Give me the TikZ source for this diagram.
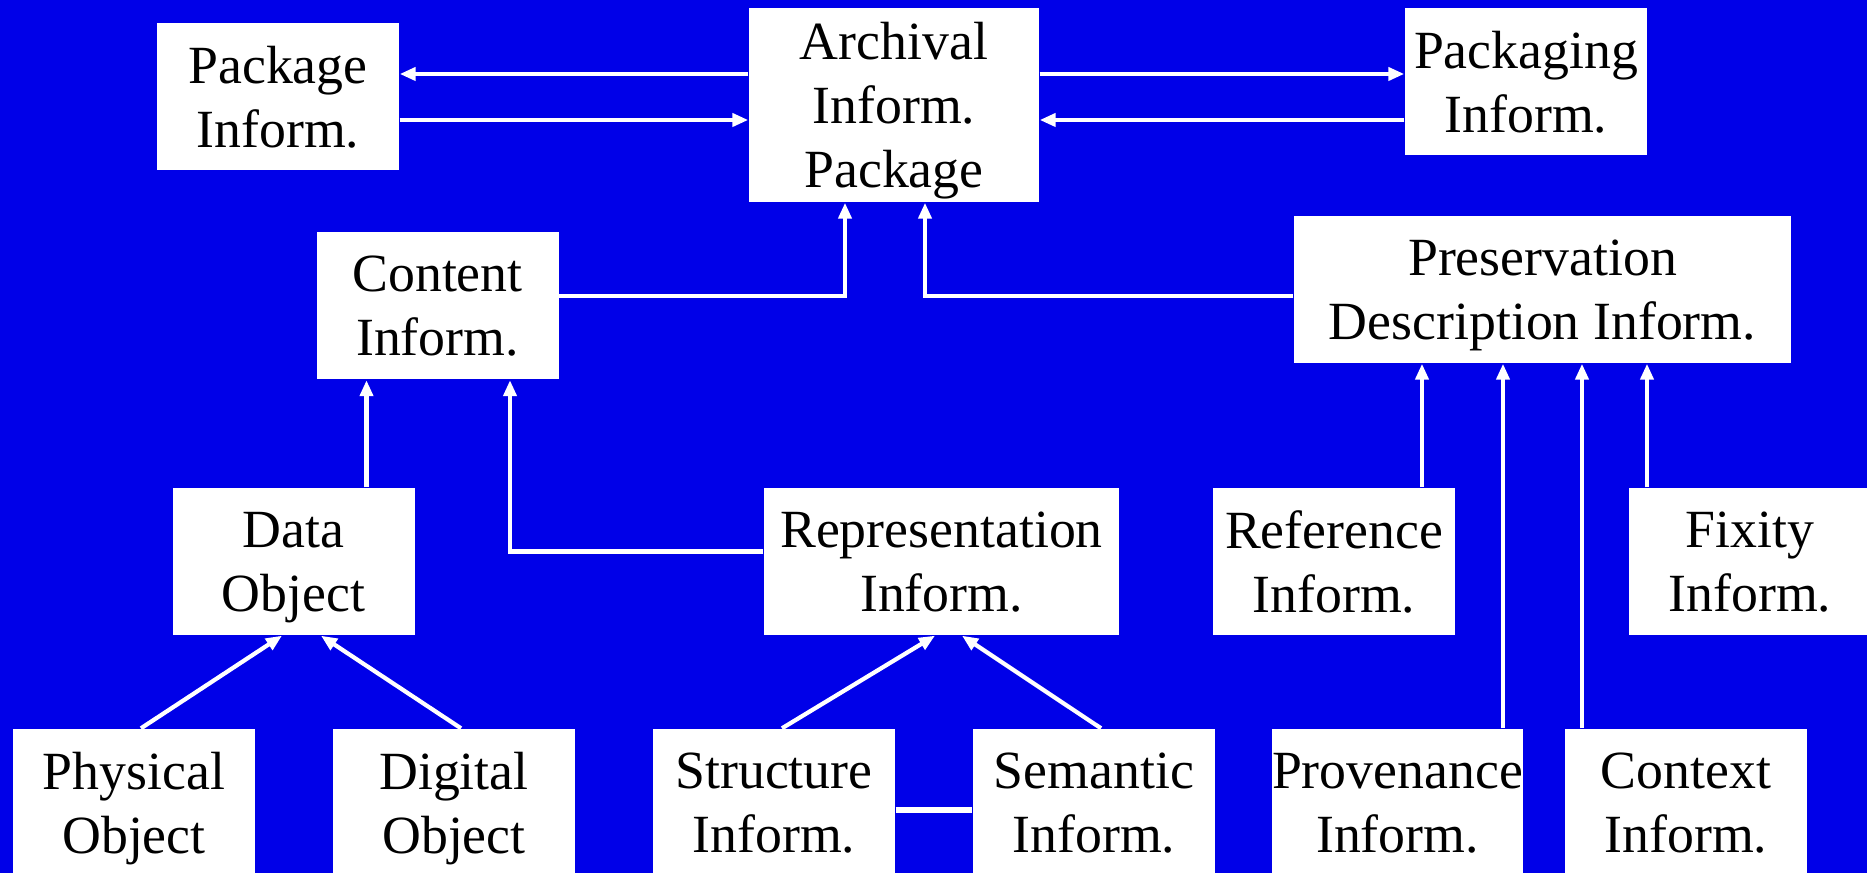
\documentclass[tikz,border=0pt]{standalone}
\usepackage{fontspec}
\setmainfont{Liberation Serif}
\usetikzlibrary{arrows.meta}
\definecolor{bgblue}{RGB}{0,0,232}
\tikzset{
  box/.style={fill=white, text=black, inner sep=0pt, align=center,
    minimum width=2.42cm, minimum height=1.47cm,
    font=\fontsize{15.3}{18.2}\selectfont, text depth=0pt},
  link/.style={draw=white, line width=1.2pt},
  arr/.style={link, -{Triangle[length=0.16cm, width=0.13cm]}}
}
\begin{document}
\begin{tikzpicture}
      % Background and frame
      \fill[bgblue] (0,0) rectangle (18.67,-8.73);
      \useasboundingbox (0,0) rectangle (18.67,-8.73);
      \clip (0,0) rectangle (18.67,-8.73);

      % Top row
      \node[box] (pkg) at (2.78,-0.97) {Package\\Inform.};
      \node[box, minimum width=2.90cm, minimum height=1.94cm] (aip) at (8.94,-1.05) {Archival\\Inform.\\Package};
      \node[box] (pkging) at (15.26,-0.815) {Packaging\\Inform.};

      % Second row
      \node[box] (content) at (4.375,-3.06) {Content\\Inform.};
      \node[box, minimum width=4.97cm] (pdi) at (15.425,-2.895) {Preservation\\Description Inform.};

      % Third row
      \node[box] (data) at (2.935,-5.615) {Data\\Object};
      \node[box, minimum width=3.55cm] (repr) at (9.415,-5.615) {Representation\\Inform.};
      \node[box] (ref) at (13.34,-5.615) {Reference\\Inform.};
      \node[box] (fixity) at (17.50,-5.615) {Fixity\\Inform.};

      % Bottom row
      \node[box] (phys) at (1.34,-8.025) {Physical\\Object};
      \node[box] (digi) at (4.54,-8.025) {Digital\\Object};
      \node[box] (struct) at (7.74,-8.025) {Structure\\Inform.};
      \node[box] (sem) at (10.94,-8.025) {Semantic\\Inform.};
      \node[box] (prov) at (13.975,-8.025) {Provenance\\Inform.};
      \node[box] (ctx) at (16.86,-8.025) {Context\\Inform.};

      % Arrows between the top boxes
      \draw[arr] ([yshift=2.3mm]pkg.east -| aip.west) -- ([yshift=2.3mm]pkg.east);
      \draw[arr] ([yshift=-2.3mm]pkg.east) -- ([yshift=-2.3mm]pkg.east -| aip.west);
      \draw[arr] ([yshift=2.3mm]pkg.east -| aip.east) -- ([yshift=2.3mm]pkg.east -| pkging.west);
      \draw[arr] ([yshift=-2.3mm]pkg.east -| pkging.west) -- ([yshift=-2.3mm]pkg.east -| aip.east);

      % Content and preservation into the package
      \draw[arr] ([yshift=1mm]content.east) -| ([xshift=-0.49cm]aip.south);
      \draw[arr] ([yshift=1mm]content.east -| pdi.west) -| ([xshift=0.31cm]aip.south);

      % Into the content box
      \draw[arr] ([xshift=0.73cm]data.north) -- ([xshift=0.73cm]data.north |- content.south);
      \draw[arr] ([yshift=1mm]repr.west) -| ([xshift=0.725cm]content.south);

      % Objects and representation parts
      \draw[arr] ([xshift=0.07cm]phys.north) -- ([xshift=-0.115cm]data.south);
      \draw[arr] ([xshift=0.07cm]digi.north) -- ([xshift=0.275cm]data.south);
      \draw[arr] ([xshift=0.08cm]struct.north) -- ([xshift=-0.065cm]repr.south);
      \draw[arr] ([xshift=0.07cm]sem.north) -- ([xshift=0.205cm]repr.south);
      \draw[link, line width=1.5pt] ([yshift=-0.75mm]struct.east) -- ([yshift=-0.75mm]struct.east -| sem.west);

      % Into the preservation description box
      \draw[arr] ([xshift=0.88cm]ref.north) -- ([xshift=0.88cm]ref.north |- pdi.south);
      \draw[arr] ([xshift=1.055cm]prov.north) -- ([xshift=1.055cm]prov.north |- pdi.south);
      \draw[arr] ([xshift=-1.04cm]ctx.north) -- ([xshift=-1.04cm]ctx.north |- pdi.south);
      \draw[arr] ([xshift=-1.03cm]fixity.north) -- ([xshift=-1.03cm]fixity.north |- pdi.south);
\end{tikzpicture}
\end{document}
